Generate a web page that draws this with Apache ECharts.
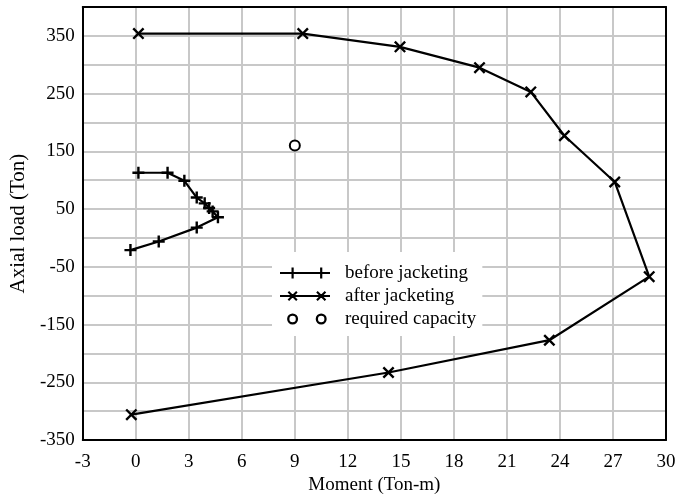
<!DOCTYPE html>
<html>
<head>
<meta charset="utf-8">
<script src="https://cdn.jsdelivr.net/npm/echarts@6/dist/echarts.min.js"></script>
<style>
  html, body { margin: 0; padding: 0; background: #fff; }
  #chart { width: 679px; height: 500px; }
</style>
</head>
<body>
<div id="chart"></div>
<script>
// values (Moment in Ton-m, Axial load in Ton)
var beforeMoment = [0.15, 1.8, 2.75, 3.45, 3.9, 4.15, 4.35, 4.65, 3.45, 1.3, -0.3];
var beforeLoad   = [113, 113, 99, 70, 60, 52, 46, 36, 18, -6, -21];
var afterMoment  = [0.15, 9.45, 14.95, 19.45, 22.35, 24.25, 27.1, 29.05, 23.4, 14.3, -0.25];
var afterLoad    = [354, 354, 331, 295, 253, 177, 97, -67, -177, -233, -306];
var requiredMoment = [9];
var requiredLoad   = [160];
var seriesNames = ['before jacketing', 'after jacketing', 'required capacity'];

function pairs(xs, ys) { return xs.map(function (x, i) { return [x, ys[i]]; }); }

// marker shapes (filled paths)
var PLUS = 'path://M4 0H6V10H4Z M0 4H10V6H0Z';
var CROSS = 'path://M0 1.4L1.4 0L10 8.6L8.6 10Z M8.6 0L10 1.4L1.4 10L0 8.6Z';

// legend icons: line with two markers, like the office-style legend
function f(n) { return Math.round(n * 100) / 100; }
function plusAt(cx, cy) {
    return 'M' + f(cx - 1.1) + ' ' + f(cy - 5.5) + 'H' + f(cx + 1.1) + 'V' + f(cy + 5.5) + 'H' + f(cx - 1.1) + 'Z';
}
function crossAt(cx, cy) {
    var a = 5, b = 3.5;
    return 'M' + f(cx - a) + ' ' + f(cy - b) + 'L' + f(cx - b) + ' ' + f(cy - a) + 'L' + f(cx + a) + ' ' + f(cy + b) + 'L' + f(cx + b) + ' ' + f(cy + a) + 'Z' +
           'M' + f(cx + b) + ' ' + f(cy - a) + 'L' + f(cx + a) + ' ' + f(cy - b) + 'L' + f(cx - b) + ' ' + f(cy + a) + 'L' + f(cx - a) + ' ' + f(cy + b) + 'Z';
}
function ringAt(cx, cy) {
    var R = 5.5, r = 3.2;
    return 'M' + f(cx + R) + ' ' + cy + 'A' + R + ' ' + R + ' 0 1 1 ' + f(cx - R) + ' ' + cy + 'A' + R + ' ' + R + ' 0 1 1 ' + f(cx + R) + ' ' + cy + 'Z' +
           'M' + f(cx + r) + ' ' + cy + 'A' + r + ' ' + r + ' 0 1 0 ' + f(cx - r) + ' ' + cy + 'A' + r + ' ' + r + ' 0 1 0 ' + f(cx + r) + ' ' + cy + 'Z';
}
var BOX = 'M0 0L0.01 0L0 0.01Z M50 12L49.99 12L50 11.99Z';   // keeps the bbox at 50x12
var LINE = 'M0 5H50V7H0Z';
var m1 = 12.6, m2 = 41.2;
var iconBefore = 'path://' + BOX + LINE + plusAt(m1, 6) + plusAt(m2, 6);
var iconAfter = 'path://' + BOX + LINE + crossAt(m1, 6) + crossAt(m2, 6);
var iconReq = 'path://' + BOX + ringAt(m1, 6) + ringAt(m2, 6);

var FONT = 'Liberation Serif';
var GRIDLINE = { show: true, lineStyle: { color: '#c8c8c8', width: 2 } };
var FRAME = { show: true, onZero: false, lineStyle: { color: '#000', width: 2 } };
var chart = echarts.init(document.getElementById('chart'));

chart.setOption({
    animation: false,
    backgroundColor: '#fff',
    textStyle: { fontFamily: FONT, color: '#000' },
    grid: { left: 81, right: 13, top: 7, bottom: 57 },
    legend: {
        left: 272, top: 252,
        orient: 'vertical',
        backgroundColor: '#fff',
        padding: [11, 6, 7, 8],
        itemWidth: 50, itemHeight: 12, itemGap: 3,
        symbolKeepAspect: true,
        itemStyle: { color: '#000', borderWidth: 0 },
        textStyle: { fontFamily: FONT, fontSize: 19, color: '#000', lineHeight: 20, padding: [0, 0, 0, 10] },
        data: [
            { name: seriesNames[0], icon: iconBefore },
            { name: seriesNames[1], icon: iconAfter },
            { name: seriesNames[2], icon: iconReq }
        ]
    },
    xAxis: [{
        type: 'value', min: -3, max: 30, interval: 3, position: 'bottom',
        name: 'Moment (Ton-m)', nameLocation: 'middle', nameGap: 31,
        nameTextStyle: { fontFamily: FONT, fontSize: 19, color: '#000' },
        axisLine: FRAME, axisTick: { show: false },
        axisLabel: { fontFamily: FONT, fontSize: 19, color: '#000', margin: 12 },
        splitLine: GRIDLINE
    }, {
        type: 'value', min: -3, max: 30, interval: 3, position: 'top',
        axisLine: FRAME, axisTick: { show: false }, axisLabel: { show: false }, splitLine: { show: false }
    }],
    yAxis: [{
        type: 'value', min: -350, max: 400, interval: 50, position: 'left',
        name: 'Axial load (Ton)', nameLocation: 'middle', nameGap: 47,
        nameTextStyle: { fontFamily: FONT, fontSize: 21, color: '#000' },
        axisLine: FRAME, axisTick: { show: false },
        axisLabel: {
            fontFamily: FONT, fontSize: 19, color: '#000', margin: 8,
            formatter: function (v) { return (v + 350) % 100 === 0 ? String(v) : ''; }
        },
        splitLine: GRIDLINE
    }, {
        type: 'value', min: -350, max: 400, interval: 50, position: 'right',
        axisLine: FRAME, axisTick: { show: false }, axisLabel: { show: false }, splitLine: { show: false }
    }],
    series: [
        {
            name: seriesNames[0], type: 'line', data: pairs(beforeMoment, beforeLoad),
            symbol: PLUS, symbolSize: 12, showAllSymbol: true,
            lineStyle: { color: '#000', width: 2.2 },
            itemStyle: { color: '#000', borderWidth: 0 }, z: 3
        },
        {
            name: seriesNames[1], type: 'line', data: pairs(afterMoment, afterLoad),
            symbol: CROSS, symbolSize: 12, showAllSymbol: true,
            lineStyle: { color: '#000', width: 2.2 },
            itemStyle: { color: '#000', borderWidth: 0 }, z: 3
        },
        {
            name: seriesNames[2], type: 'scatter', data: pairs(requiredMoment, requiredLoad),
            symbol: 'emptyCircle', symbolSize: 10,
            itemStyle: { color: '#000', borderColor: '#000', borderWidth: 2.5, opacity: 1 }, z: 3
        }
    ]
});
</script>
</body>
</html>
